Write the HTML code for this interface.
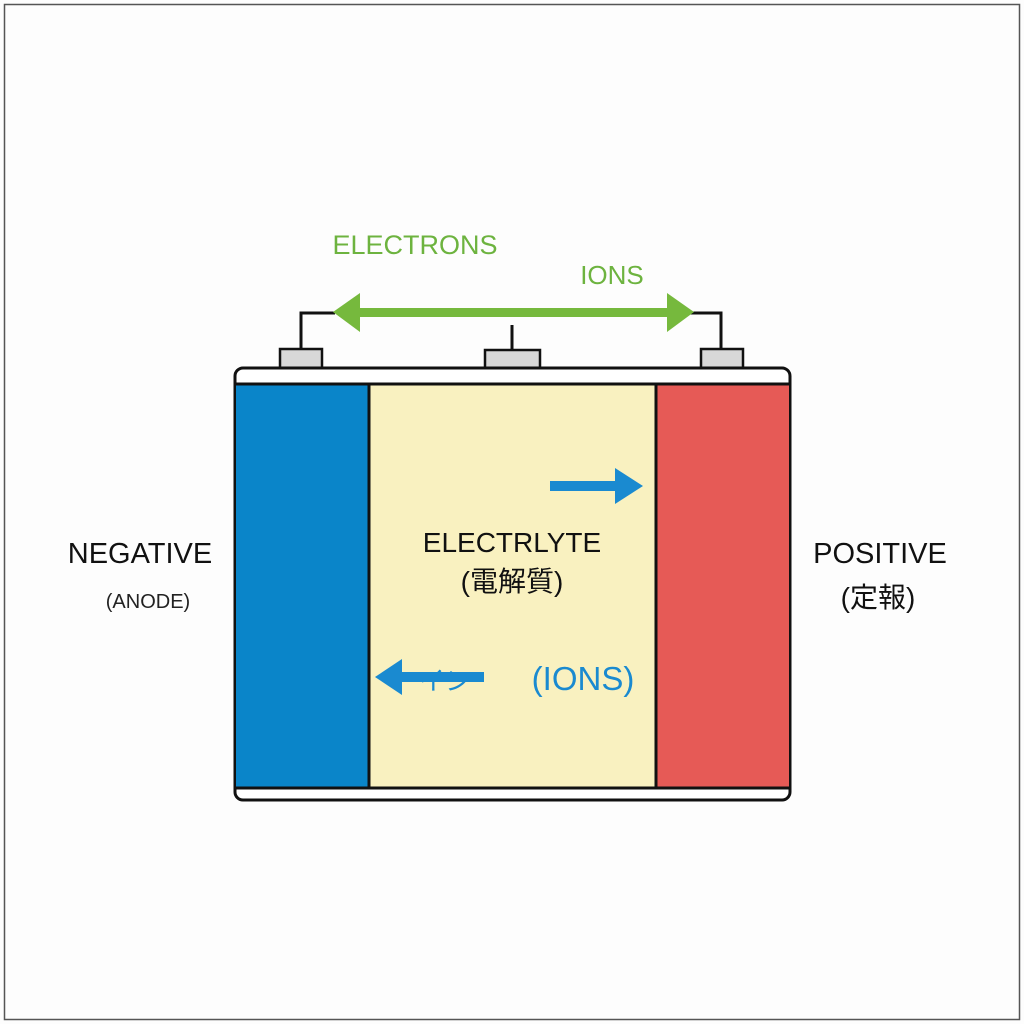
<!DOCTYPE html>
<html><head><meta charset="utf-8"><style>
html,body{margin:0;padding:0;background:#fff;}
svg{display:block;}
text{font-family:"Liberation Sans","Noto Sans CJK JP",sans-serif;}
</style></head><body>
<svg width="1024" height="1024" viewBox="0 0 1024 1024" xmlns="http://www.w3.org/2000/svg">
<rect x="0" y="0" width="1024" height="1024" fill="#fdfdfd"/>
<rect x="4.5" y="4.5" width="1015" height="1015" fill="none" stroke="#555" stroke-width="1.5"/>
<polyline points="301,350 301,313 335,313" fill="none" stroke="#111" stroke-width="3"/>
<polyline points="690,313 721,313 721,350" fill="none" stroke="#111" stroke-width="3"/>
<line x1="512" y1="325" x2="512" y2="350" stroke="#111" stroke-width="3"/>
<rect x="355" y="308" width="318" height="9" fill="#76b93d"/>
<polygon points="333,312 360,293 360,332" fill="#76b93d"/>
<polygon points="694,312 667,293 667,332" fill="#76b93d"/>
<rect x="280" y="349" width="42" height="19" fill="#d8d8d8" stroke="#111" stroke-width="2.5"/>
<rect x="485" y="350" width="55" height="18" fill="#d8d8d8" stroke="#111" stroke-width="2.5"/>
<rect x="701" y="349" width="42" height="19" fill="#d8d8d8" stroke="#111" stroke-width="2.5"/>
<rect x="235" y="368" width="555" height="432" rx="8" fill="#fff" stroke="#111" stroke-width="3"/>
<rect x="236" y="384" width="133" height="404" fill="#0a85c9"/>
<rect x="369" y="384" width="287" height="404" fill="#f9f1c0"/>
<rect x="656" y="384" width="133" height="404" fill="#e65a56"/>
<line x1="235" y1="384" x2="790" y2="384" stroke="#111" stroke-width="3"/>
<line x1="235" y1="788" x2="790" y2="788" stroke="#111" stroke-width="3"/>
<line x1="369" y1="384" x2="369" y2="788" stroke="#111" stroke-width="3"/>
<line x1="656" y1="384" x2="656" y2="788" stroke="#111" stroke-width="3"/>
<rect x="550" y="481" width="68" height="10" fill="#1a8ad0"/>
<polygon points="643,486 615,468 615,504" fill="#1a8ad0"/>
<rect x="395" y="672" width="89" height="10" fill="#1a8ad0"/>
<polygon points="375,677 402,659 402,695" fill="#1a8ad0"/>
<text x="445" y="690" font-size="26" fill="#1a8ad0" text-anchor="middle">イン</text>
<text x="415" y="254" font-size="27" fill="#6db33f" text-anchor="middle">ELECTRONS</text>
<text x="612" y="284" font-size="26" fill="#6db33f" text-anchor="middle">IONS</text>
<text x="140" y="563" font-size="29" fill="#111" text-anchor="middle">NEGATIVE</text>
<text x="148" y="608" font-size="20" fill="#222" text-anchor="middle">(ANODE)</text>
<text x="880" y="563" font-size="29" fill="#111" text-anchor="middle">POSITIVE</text>
<text x="878" y="607" font-size="28" fill="#111" text-anchor="middle">(定報)</text>
<text x="512" y="552" font-size="28" fill="#111" text-anchor="middle">ELECTRLYTE</text>
<text x="512" y="591" font-size="28" fill="#111" text-anchor="middle">(電解質)</text>
<text x="583" y="690" font-size="33" fill="#1a8ad0" text-anchor="middle">(IONS)</text>
</svg>
</body></html>
